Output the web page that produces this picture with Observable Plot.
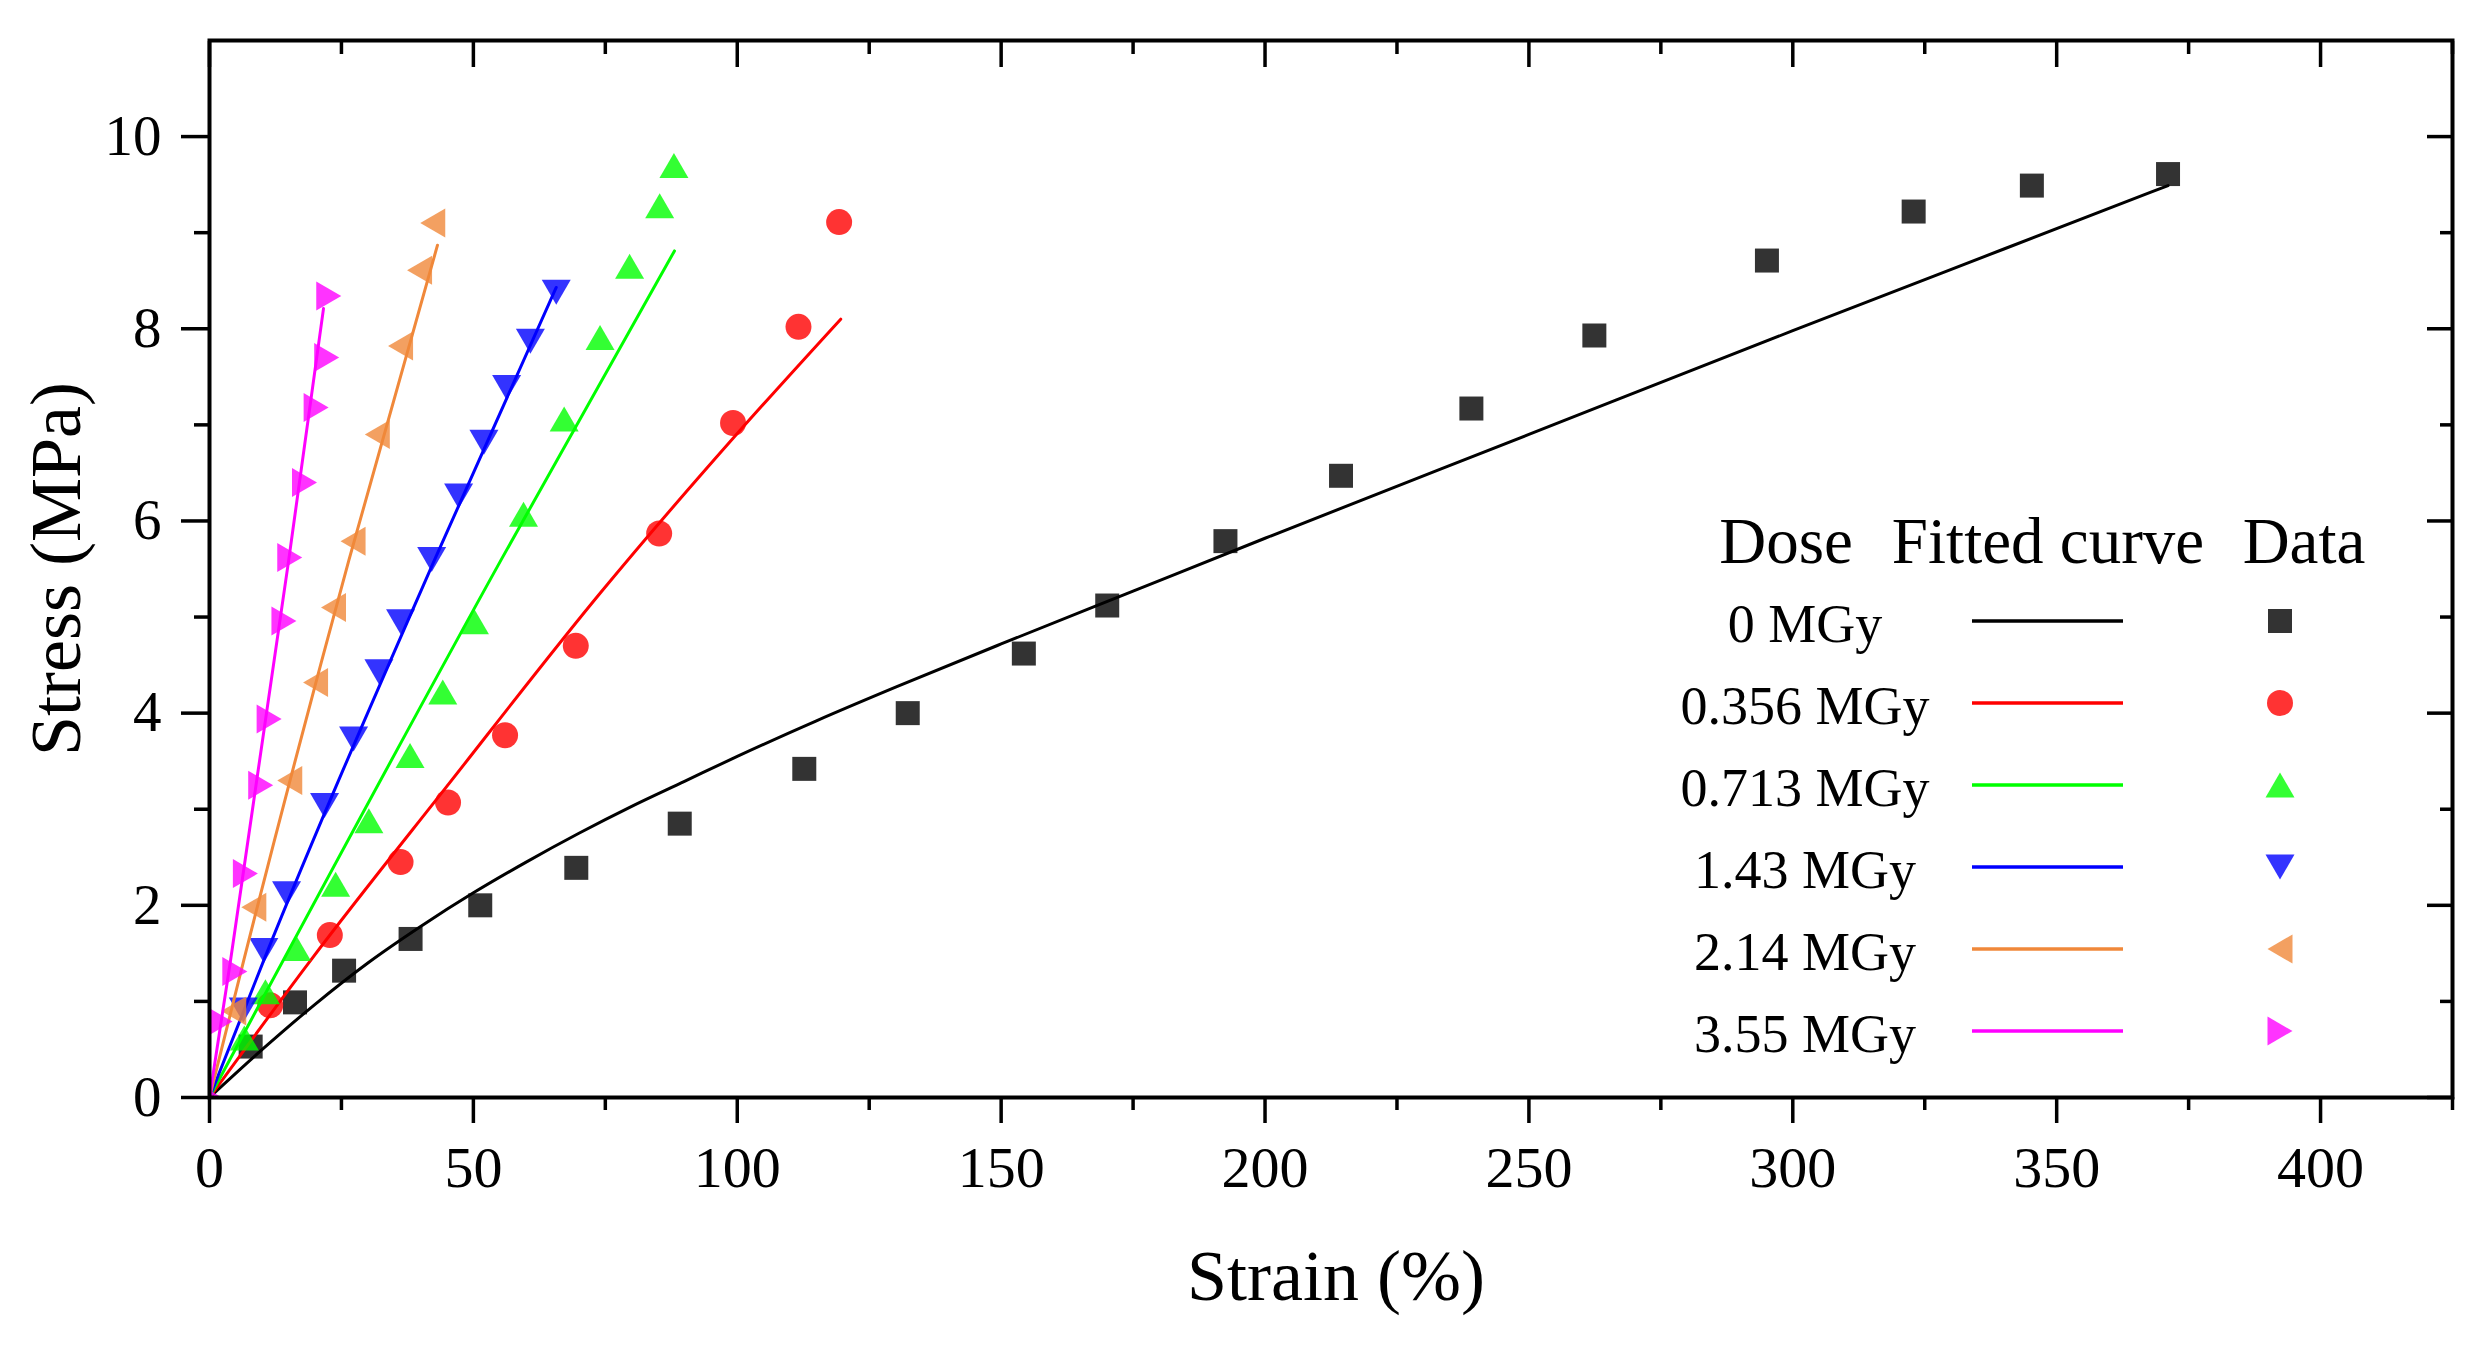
<!DOCTYPE html>
<html><head><meta charset="utf-8">
<script src="https://cdn.jsdelivr.net/npm/d3@7"></script>
<script src="https://cdn.jsdelivr.net/npm/@observablehq/plot@0.6"></script>
<style>
html,body{margin:0;padding:0;background:#fff;}
#chart svg{display:block;}
</style></head><body><div id="chart"></div>
<script>
// ---- categories ----
const doses = ["0 MGy", "0.356 MGy", "0.713 MGy", "1.43 MGy", "2.14 MGy", "3.55 MGy"];
const seriesColors = ["#000000", "#ff0000", "#00ff00", "#0000ff", "#f0883a", "#ff00ff"];
const seriesShapes = ["square", "circle", "triangleUp", "triangleDown", "triangleLeft", "triangleRight"];

// ---- measured data (strain %, stress MPa) ----
const strain0 = [7.8, 16.2, 25.5, 38.1, 51.3, 69.5, 89.1, 112.7, 132.3, 154.3, 170.1, 192.5, 214.4, 239.1, 262.4, 295.1, 322.9, 345.3, 371.1];
const stress0 = [0.53, 0.99, 1.32, 1.65, 2.00, 2.39, 2.85, 3.42, 4.00, 4.62, 5.12, 5.79, 6.47, 7.17, 7.93, 8.71, 9.22, 9.49, 9.61];
const strain1 = [11.5, 22.8, 36.2, 45.2, 56.0, 69.4, 85.2, 99.2, 111.6, 119.3];
const stress1 = [0.96, 1.69, 2.45, 3.07, 3.77, 4.70, 5.87, 7.02, 8.02, 9.11];
const strain2 = [6.6, 10.6, 16.5, 23.9, 30.2, 38.0, 44.2, 50.2, 59.5, 67.2, 74.0, 79.6, 85.3, 88.0];
const stress2 = [0.62, 1.10, 1.55, 2.22, 2.88, 3.56, 4.22, 4.95, 6.07, 7.06, 7.91, 8.65, 9.28, 9.70];
const strain3 = [6.4, 10.3, 14.6, 21.8, 27.3, 32.1, 36.2, 42.1, 47.2, 52.0, 56.3, 60.8, 65.7];
const stress3 = [0.91, 1.53, 2.12, 3.04, 3.73, 4.43, 4.95, 5.60, 6.26, 6.82, 7.39, 7.87, 8.38];
const strain4 = [4.6, 8.4, 15.2, 20.1, 23.5, 27.2, 31.8, 36.2, 39.8, 42.3];
const stress4 = [0.90, 1.98, 3.30, 4.32, 5.10, 5.79, 6.90, 7.82, 8.61, 9.10];
const strain5 = [0, 2.0, 4.8, 6.8, 9.7, 11.3, 14.1, 15.2, 18.0, 20.2, 22.2, 22.6];
const stress5 = [0, 0.79, 1.31, 2.33, 3.25, 3.94, 4.96, 5.62, 6.40, 7.18, 7.70, 8.34];

// ---- fitted curves ----
const fitStrain0 = [0, 10, 20, 30, 40, 50, 60, 70, 80, 90, 100, 115, 130, 150, 175, 200, 250, 300, 340, 371.1];
const fitStress0 = [0, 0.50, 0.97, 1.40, 1.78, 2.13, 2.45, 2.75, 3.03, 3.29, 3.55, 3.92, 4.27, 4.72, 5.27, 5.82, 6.90, 7.98, 8.83, 9.49];
const fitStrain1 = [0, 19.2, 45, 74.2, 100, 119.6];
const fitStress1 = [0, 1.43, 3.24, 5.26, 6.91, 8.10];
const fitStrain2 = [0, 55.2, 88.1];
const fitStress2 = [0, 5.59, 8.81];
const fitStrain3 = [0, 10.3, 42.6, 65.7];
const fitStress3 = [0, 1.43, 5.59, 8.43];
const fitStrain4 = [0, 6.5, 26.4, 43.2];
const fitStress4 = [0, 1.43, 5.59, 8.87];
const fitStrain5 = [0, 4.0, 15.0, 21.6];
const fitStress5 = [0, 1.43, 5.59, 8.21];

// ---- axis ticks ----
const xMajor = [0, 50, 100, 150, 200, 250, 300, 350, 400];
const xMinor = [25, 75, 125, 175, 225, 275, 325, 375, 425];
const yMajor = [0, 2, 4, 6, 8, 10];
const yMinor = [1, 3, 5, 7, 9];

const strains = [strain0, strain1, strain2, strain3, strain4, strain5];
const stresses = [stress0, stress1, stress2, stress3, stress4, stress5];
const fitStrains = [fitStrain0, fitStrain1, fitStrain2, fitStrain3, fitStrain4, fitStrain5];
const fitStresses = [fitStress0, fitStress1, fitStress2, fitStress3, fitStress4, fitStress5];

// custom symbols (base radius 13 → unit scale)
function makeSymbol(kind) {
  return {
    draw(ctx, size) {
      const k = Math.sqrt(size / Math.PI) / 13;
      switch (kind) {
        case "square": { const h = 12 * k; ctx.moveTo(-h, -h); ctx.lineTo(h, -h); ctx.lineTo(h, h); ctx.lineTo(-h, h); ctx.closePath(); break; }
        case "circle": { const r = 13 * k; ctx.moveTo(r, 0); ctx.arc(0, 0, r, 0, 2 * Math.PI); break; }
        case "triangleUp": ctx.moveTo(0, -12.5 * k); ctx.lineTo(14.5 * k, 12.5 * k); ctx.lineTo(-14.5 * k, 12.5 * k); ctx.closePath(); break;
        case "triangleDown": ctx.moveTo(0, 12.5 * k); ctx.lineTo(14.5 * k, -12.5 * k); ctx.lineTo(-14.5 * k, -12.5 * k); ctx.closePath(); break;
        case "triangleLeft": ctx.moveTo(-12.5 * k, 0); ctx.lineTo(12.5 * k, -14.5 * k); ctx.lineTo(12.5 * k, 14.5 * k); ctx.closePath(); break;
        case "triangleRight": ctx.moveTo(12.5 * k, 0); ctx.lineTo(-12.5 * k, -14.5 * k); ctx.lineTo(-12.5 * k, 14.5 * k); ctx.closePath(); break;
      }
    }
  };
}
const symbols = seriesShapes.map(makeSymbol);

const seriesMarks = [];
doses.forEach((dose, i) => {
  const fit = fitStrains[i].map((s, j) => ({dose, strain: s, stress: fitStresses[i][j]}));
  const pts = strains[i].map((s, j) => ({dose, strain: s, stress: stresses[i][j]}));
  seriesMarks.push(Plot.line(fit, {x: "strain", y: "stress", stroke: seriesColors[i], strokeWidth: 3, curve: "monotone-x", clip: true}));
  seriesMarks.push(Plot.dot(pts, {x: "strain", y: "stress", symbol: symbols[i], r: 13, fill: seriesColors[i], fillOpacity: 0.8, stroke: "none", clip: true}));
});

const FONT = "'Liberation Serif', 'Times New Roman', serif";
const empty = () => "";
const intFmt = d => String(d);

const plot = Plot.plot({
  width: 2487,
  height: 1348,
  marginLeft: 209,
  marginRight: 35,
  marginTop: 40,
  marginBottom: 251,
  style: {fontFamily: FONT, background: "white", color: "black"},
  x: {domain: [0, 425]},
  y: {domain: [0, 11]},
  marks: [
    ...seriesMarks,
    Plot.frame({strokeWidth: 4}),
    // bottom axis
    Plot.axisX(xMajor, {anchor: "bottom", tickSize: 26, tickPadding: 22, fontSize: 58, strokeWidth: 3.5, label: null, tickFormat: intFmt}),
    Plot.axisX(xMinor, {anchor: "bottom", tickSize: 13, strokeWidth: 3.5, label: null, tickFormat: empty}),
    // top axis (inward)
    Plot.axisX(xMajor, {anchor: "top", tickSize: 26, dy: 26, strokeWidth: 3.5, label: null, tickFormat: empty}),
    Plot.axisX(xMinor, {anchor: "top", tickSize: 13, dy: 13, strokeWidth: 3.5, label: null, tickFormat: empty}),
    // left axis
    Plot.axisY(yMajor, {anchor: "left", tickSize: 28, tickPadding: 20, fontSize: 57, strokeWidth: 3.5, label: null, tickFormat: intFmt}),
    Plot.axisY(yMinor, {anchor: "left", tickSize: 15, strokeWidth: 3.5, label: null, tickFormat: empty}),
    // right axis (inward)
    Plot.axisY(yMajor, {anchor: "right", tickSize: 26, dx: -26, strokeWidth: 3.5, label: null, tickFormat: empty}),
    Plot.axisY(yMinor, {anchor: "right", tickSize: 13, dx: -13, strokeWidth: 3.5, label: null, tickFormat: empty}),
    // axis titles
    Plot.text(["Strain (%)"], {frameAnchor: "bottom", dy: 179, dx: 5, text: d => d, fontSize: 72, textAnchor: "middle", lineAnchor: "middle", fill: "black"}),
    Plot.text(["Stress (MPa)"], {frameAnchor: "left", dx: -153, rotate: -90, text: d => d, fontSize: 72, textAnchor: "middle", lineAnchor: "middle", fill: "black"})
  ]
});
document.getElementById("chart").appendChild(plot);

// ---- legend (inside plot area) ----
const svg = d3.select(plot);
const lg = svg.append("g").attr("font-family", FONT).attr("fill", "black");
const headers = ["Dose", "Fitted curve", "Data"];
const headerX = [1786, 2048, 2304];
headers.forEach((h, i) => {
  lg.append("text").attr("x", headerX[i]).attr("y", 563).attr("text-anchor", "middle").attr("font-size", 65).text(h);
});
doses.forEach((dose, i) => {
  const y = 621 + i * 82;
  lg.append("text").attr("x", 1805).attr("y", y + 21).attr("text-anchor", "middle").attr("font-size", 54).text(dose);
  lg.append("line").attr("x1", 1972).attr("x2", 2123).attr("y1", y).attr("y2", y)
    .attr("stroke", seriesColors[i]).attr("stroke-width", 3.5);
  lg.append("path").attr("transform", `translate(2280,${y})`)
    .attr("d", d3.symbol(symbols[i], 13 * 13 * Math.PI)())
    .attr("fill", seriesColors[i]).attr("fill-opacity", 0.8);
});
</script>
</body></html>
